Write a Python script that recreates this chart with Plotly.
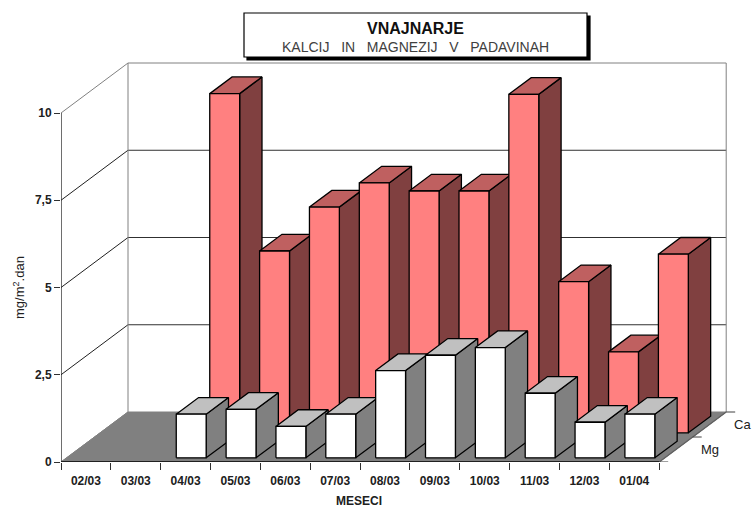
import plotly.graph_objects as go

categories = ["02/03","03/03","04/03","05/03","06/03","07/03","08/03","09/03","10/03","11/03","12/03","01/04"]
ca_values = [None,None,9.72,5.21,6.47,7.16,6.93,6.93,9.70,4.33,2.32,5.12]
mg_values = [None,None,1.25,1.39,0.90,1.25,2.50,2.94,3.16,1.85,1.02,1.25]
y_ticks = [0,2.5,5,7.5,10]
y_labels = ["0","2,5","5","7,5","10"]
series_names = ["Mg","Ca"]

W,H = 752,510
X0,Y0 = 61,462
PX_X,PX_Y = 49.85,34.9
DEPTH_X = 67/PX_X
DEPTH_Y = 50/PX_Y
FONT = "Liberation Sans"
INK = "#202020"

def P(i,v,d):
    return i+d*DEPTH_X, v+d*DEPTH_Y
def px2d(x,y):
    return (x-X0)/PX_X, (Y0-y)/PX_Y

fig = go.Figure()
def poly(pts,fill,line="black",w=1.3):
    xs=[p[0] for p in pts]+[pts[0][0]]
    ys=[p[1] for p in pts]+[pts[0][1]]
    fig.add_trace(go.Scatter(x=xs,y=ys,mode="lines",fill="toself",fillcolor=fill,
        line=dict(color=line,width=w),hoverinfo="skip",showlegend=False))
def seg(a,b,color,w=1):
    fig.add_trace(go.Scatter(x=[a[0],b[0]],y=[a[1],b[1]],mode="lines",
        line=dict(color=color,width=w),hoverinfo="skip",showlegend=False))

n=len(categories)
# floor
poly([P(0,0,0),P(0,0,1),P(n,0,1),P(n,0,0)],"#808080",line="#808080",w=1)
# walls
for v in y_ticks[1:4]:
    seg(P(0,v,0),P(0,v,1),"#202020")
    seg(P(0,v,1),P(n,v,1),"#303030")
seg(P(0,10,0),P(0,10,1),"#808080")
seg(P(0,10,1),P(n,10,1),"#808080")
seg(P(0,0,1),P(0,10,1),"#808080")
seg(P(n,0,1),P(n,10,1),"#808080")
seg(P(0,0,0),P(0,0,1),"#808080")

def bars(values,s,front,top,side):
    d0=(s+1/6)/2; d1=(s+5/6)/2
    for i,v in enumerate(values):
        if v is None: continue
        a,b=i+0.2,i+0.8
        poly([P(b,0,d0),P(b,0,d1),P(b,v,d1),P(b,v,d0)],side)
        poly([P(a,v,d0),P(b,v,d0),P(b,v,d1),P(a,v,d1)],top)
        poly([P(a,0,d0),P(b,0,d0),P(b,v,d0),P(a,v,d0)],front)

bars(ca_values,1,"#FF8080","#BF6060","#804040")
bars(mg_values,0,"#FFFFFF","#C0C0C0","#808080")

# axes lines
seg(P(0,0,0),P(0,10,0),"#202020",1.3)
seg(P(0,0,0),P(n,0,0),"#202020",2.2)
seg(P(n,0,0),P(n,0,1),"#606060",1.3)
for d in (0,0.5,1):
    p=P(n,0,d)
    seg(p,(p[0]+9/PX_X,p[1]),"#404040",1)

PLOT_W,PLOT_H = W-X0,Y0
def paper(x,y):
    return (x-X0)/PLOT_W,(Y0-y)/PLOT_H

# series labels on depth axis
for s,name in enumerate(series_names):
    x,y=P(n,0,(s+0.5)/2)
    fig.add_annotation(x=x,y=y,text=name,showarrow=False,xanchor="left",yanchor="middle",
        xshift=23 if s==0 else 23,yshift=0,font=dict(family=FONT,size=13,color=INK))

# axis titles
tx,ty=paper(359,501)
fig.add_annotation(xref="paper",yref="paper",x=tx,y=ty,text="<b>MESECI</b>",showarrow=False,
    xanchor="center",yanchor="middle",font=dict(family=FONT,size=12,color=INK))
tx,ty=paper(19,288)
fig.add_annotation(xref="paper",yref="paper",x=tx,y=ty,text="mg/m<sup>2</sup>.dan",showarrow=False,textangle=-90,
    xanchor="center",yanchor="middle",font=dict(family=FONT,size=13,color=INK))

# title box
def rect(x0,y0,x1,y1,fill,line):
    a=px2d(x0,y0); b=px2d(x1,y1)
    fig.add_shape(type="rect",x0=a[0],y0=a[1],x1=b[0],y1=b[1],fillcolor=fill,
        line=dict(color=line,width=1.2),layer="above")
rect(247,16,590,60,"black","black")
rect(244,13,587,57,"white","black")
a=px2d(415,28)
fig.add_annotation(x=a[0],y=a[1],text="<b>VNAJNARJE</b>",showarrow=False,
    font=dict(family=FONT,size=16,color="#101010"))
a=px2d(415,47)
fig.add_annotation(x=a[0],y=a[1],text="KALCIJ\u00a0\u00a0 IN\u00a0\u00a0 MAGNEZIJ\u00a0\u00a0 V\u00a0\u00a0 PADAVINAH",showarrow=False,
    font=dict(family=FONT,size=14,color="#404040"))

fig.update_layout(
    width=W,height=H,autosize=False,
    margin=dict(l=X0,r=0,t=0,b=H-Y0),
    paper_bgcolor="white",plot_bgcolor="white",showlegend=False,
    font=dict(family=FONT,size=12,color=INK),
    xaxis=dict(range=[0,(W-X0)/PX_X],showgrid=False,zeroline=False,showline=False,
        tickmode="array",tickvals=[i+0.5 for i in range(n)],ticktext=categories,ticks="",
        ticklabelstandoff=10,
        tickfont=dict(family=FONT,size=12,color=INK,weight=700),
        minor=dict(tickmode="array",tickvals=list(range(n+1)),ticks="outside",ticklen=7,tickwidth=1,tickcolor="#303030",showgrid=False)),
    yaxis=dict(range=[0,Y0/PX_Y],showgrid=False,zeroline=False,showline=False,
        tickmode="array",tickvals=y_ticks,ticktext=y_labels,ticks="outside",ticklen=6,tickwidth=1,tickcolor="#303030",
        tickfont=dict(family=FONT,size=12,color=INK,weight=700)),
)
fig.write_html("out.html",config=dict(displayModeBar=False),
    post_script="document.body.style.margin='0';document.documentElement.style.overflow='hidden';")
